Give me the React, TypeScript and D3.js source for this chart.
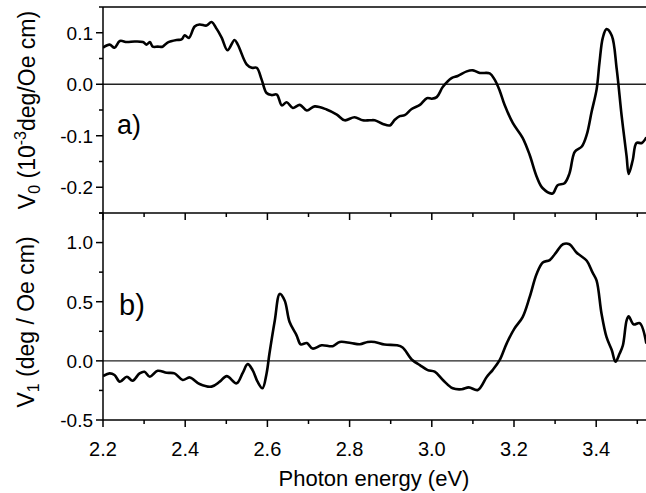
import React from "react";
import * as d3 from "d3";

// Photon energy (eV) and V0 (1e-3 deg/Oe cm) — panel a
const energyA = [2.2, 2.216, 2.228, 2.241, 2.258, 2.277, 2.297, 2.306, 2.314, 2.321, 2.333, 2.345, 2.357, 2.379, 2.391, 2.399, 2.409, 2.423, 2.435, 2.452, 2.464, 2.477, 2.489, 2.503, 2.52, 2.528, 2.55, 2.562, 2.574, 2.586, 2.598, 2.61, 2.623, 2.635, 2.647, 2.662, 2.679, 2.696, 2.715, 2.744, 2.769, 2.788, 2.812, 2.832, 2.849, 2.861, 2.881, 2.898, 2.91, 2.922, 2.934, 2.951, 2.971, 2.988, 3.0, 3.012, 3.027, 3.048, 3.063, 3.085, 3.1, 3.117, 3.141, 3.153, 3.165, 3.177, 3.197, 3.221, 3.238, 3.255, 3.27, 3.294, 3.306, 3.323, 3.335, 3.348, 3.365, 3.377, 3.389, 3.401, 3.408, 3.416, 3.425, 3.438, 3.45, 3.462, 3.474, 3.479, 3.489, 3.498, 3.511, 3.522];
const v0 = [0.071, 0.077, 0.071, 0.084, 0.082, 0.083, 0.082, 0.077, 0.082, 0.073, 0.073, 0.073, 0.081, 0.086, 0.087, 0.095, 0.09, 0.112, 0.116, 0.114, 0.121, 0.107, 0.09, 0.066, 0.086, 0.077, 0.038, 0.032, 0.032, 0.009, -0.017, -0.021, -0.02, -0.041, -0.035, -0.046, -0.04, -0.051, -0.043, -0.049, -0.059, -0.07, -0.064, -0.07, -0.07, -0.07, -0.077, -0.08, -0.069, -0.062, -0.06, -0.048, -0.04, -0.027, -0.028, -0.025, -0.005, 0.012, 0.016, 0.025, 0.027, 0.022, 0.021, 0.009, -0.012, -0.04, -0.075, -0.104, -0.137, -0.179, -0.202, -0.212, -0.196, -0.192, -0.173, -0.131, -0.121, -0.098, -0.053, -0.01, 0.042, 0.09, 0.107, 0.094, 0.029, -0.062, -0.14, -0.174, -0.147, -0.114, -0.114, -0.103];

// Photon energy (eV) and V1 (deg / Oe cm) — panel b
const energyB = [2.2, 2.216, 2.228, 2.241, 2.258, 2.272, 2.289, 2.301, 2.314, 2.333, 2.355, 2.374, 2.394, 2.411, 2.435, 2.464, 2.484, 2.501, 2.525, 2.54, 2.552, 2.564, 2.576, 2.588, 2.598, 2.605, 2.618, 2.63, 2.642, 2.654, 2.671, 2.681, 2.696, 2.71, 2.732, 2.759, 2.776, 2.803, 2.825, 2.844, 2.861, 2.885, 2.915, 2.929, 2.951, 2.971, 2.99, 3.007, 3.027, 3.051, 3.073, 3.09, 3.112, 3.134, 3.148, 3.165, 3.182, 3.201, 3.221, 3.238, 3.255, 3.27, 3.287, 3.304, 3.319, 3.335, 3.352, 3.377, 3.391, 3.401, 3.413, 3.425, 3.438, 3.447, 3.457, 3.465, 3.474, 3.479, 3.491, 3.506, 3.522];
const v1 = [-0.129, -0.106, -0.12, -0.176, -0.134, -0.168, -0.106, -0.092, -0.134, -0.084, -0.101, -0.106, -0.162, -0.14, -0.196, -0.218, -0.176, -0.129, -0.19, -0.101, -0.028, -0.078, -0.176, -0.232, -0.106, 0.062, 0.342, 0.566, 0.51, 0.328, 0.216, 0.14, 0.151, 0.104, 0.132, 0.124, 0.16, 0.151, 0.14, 0.16, 0.16, 0.138, 0.132, 0.113, 0.012, -0.036, -0.078, -0.092, -0.162, -0.232, -0.24, -0.224, -0.246, -0.134, -0.078, 0.006, 0.146, 0.272, 0.37, 0.538, 0.734, 0.832, 0.852, 0.924, 0.986, 0.986, 0.916, 0.846, 0.748, 0.678, 0.398, 0.202, 0.09, -0.008, 0.062, 0.132, 0.342, 0.376, 0.308, 0.319, 0.146];

const xMajor = [2.2, 2.4, 2.6, 2.8, 3.0, 3.2, 3.4];
const xMinor = [2.3, 2.5, 2.7, 2.9, 3.1, 3.3, 3.5];
const yTopMajor = [-0.2, -0.1, 0.0, 0.1];
const yTopMinor = [-0.25, -0.15, -0.05, 0.05, 0.15];
const yBotMajor = [-0.5, 0.0, 0.5, 1.0];
const yBotMinor = [-0.25, 0.25, 0.75, 1.25];

const FONT = "'Liberation Sans', Arial, Helvetica, sans-serif";

export default function App() {
  const W = 646, H = 493;
  const left = 103, right = 646;
  const x = d3.scaleLinear().domain([2.2, 2.2 + 543 / 411]).range([left, right]);
  const yA = d3.scaleLinear().domain([-0.25, 0.15]).range([213, 7]);
  const yB = d3.scaleLinear().domain([-0.5, 1.25]).range([420, 213]);

  const lineA = d3.line<number>().x((_, i) => x(energyA[i])).y((d) => yA(d)).curve(d3.curveCatmullRom.alpha(0.5));
  const lineB = d3.line<number>().x((_, i) => x(energyB[i])).y((d) => yB(d)).curve(d3.curveCatmullRom.alpha(0.5));

  const fmtY = (v: number) => (v === 0 ? "0.0" : d3.format(".1f")(v).replace("−", "-"));

  return (
    <svg width={W} height={H} style={{ position: "absolute", left: 0, top: 0, background: "#fff" }} fontFamily={FONT}>
      <rect x={0} y={0} width={W} height={H} fill="#fff" />
      <defs>
        <clipPath id="plotclip">
          <rect x={left} y={7} width={right - left} height={413} />
        </clipPath>
      </defs>

      {/* zero lines */}
      <line x1={left} x2={right} y1={yA(0)} y2={yA(0)} stroke="#222" strokeWidth={1.3} />
      <line x1={left} x2={right} y1={yB(0)} y2={yB(0)} stroke="#222" strokeWidth={1.3} />

      {/* curves */}
      <g clipPath="url(#plotclip)">
        <path d={lineA(v0) || ""} fill="none" stroke="#000" strokeWidth={2.6} strokeLinejoin="round" />
        <path d={lineB(v1) || ""} fill="none" stroke="#000" strokeWidth={2.6} strokeLinejoin="round" />
      </g>

      {/* frame lines */}
      <line x1={left} x2={right} y1={7} y2={7} stroke="#000" strokeWidth={1.5} />
      <line x1={left} x2={right} y1={213} y2={213} stroke="#000" strokeWidth={1.5} />
      <line x1={left} x2={right} y1={420} y2={420} stroke="#000" strokeWidth={1.5} />
      <line x1={left} x2={left} y1={7} y2={420} stroke="#000" strokeWidth={1.5} />

      {/* x ticks on middle and bottom axes (pointing down) */}
      {[213, 420].map((yy) => (
        <g key={yy}>
          {xMajor.map((t) => (
            <line key={"M" + t} x1={x(t)} x2={x(t)} y1={yy} y2={yy + 7} stroke="#000" strokeWidth={1.5} />
          ))}
          {xMinor.map((t) => (
            <line key={"m" + t} x1={x(t)} x2={x(t)} y1={yy} y2={yy + 4} stroke="#000" strokeWidth={1.5} />
          ))}
        </g>
      ))}

      {/* x tick labels */}
      {xMajor.map((t) => (
        <text key={t} x={x(t)} y={456} fontSize={20} textAnchor="middle" fill="#000">
          {t.toFixed(1)}
        </text>
      ))}

      {/* y ticks panel a */}
      {yTopMajor.map((t) => (
        <g key={"a" + t}>
          <line x1={left - 7} x2={left} y1={yA(t)} y2={yA(t)} stroke="#000" strokeWidth={1.5} />
          <text x={93} y={yA(t)} dy="0.36em" fontSize={19} textAnchor="end" fill="#000">
            {fmtY(t)}
          </text>
        </g>
      ))}
      {yTopMinor.map((t) => (
        <line key={"am" + t} x1={left - 4} x2={left} y1={yA(t)} y2={yA(t)} stroke="#000" strokeWidth={1.5} />
      ))}

      {/* y ticks panel b */}
      {yBotMajor.map((t) => (
        <g key={"b" + t}>
          <line x1={left - 7} x2={left} y1={yB(t)} y2={yB(t)} stroke="#000" strokeWidth={1.5} />
          <text x={93} y={yB(t)} dy="0.36em" fontSize={19} textAnchor="end" fill="#000">
            {fmtY(t)}
          </text>
        </g>
      ))}
      {yBotMinor.map((t) => (
        <line key={"bm" + t} x1={left - 4} x2={left} y1={yB(t)} y2={yB(t)} stroke="#000" strokeWidth={1.5} />
      ))}

      {/* panel labels */}
      <text x={117} y={134} fontSize={27} fill="#000">a)</text>
      <text x={119} y={315} fontSize={29} fill="#000">b)</text>

      {/* axis titles */}
      <text x={374} y={486} fontSize={22} textAnchor="middle" fill="#000">Photon energy (eV)</text>

      <text transform="translate(35,110) rotate(-90)" fontSize={23} textAnchor="middle" fill="#000">
        <tspan>V</tspan>
        <tspan fontSize={16} dy={5}>0</tspan>
        <tspan dy={-5}> (10</tspan>
        <tspan fontSize={16} dy={-9}>-3</tspan>
        <tspan dy={9}>deg/Oe cm)</tspan>
      </text>
      <text transform="translate(34,322) rotate(-90)" fontSize={23} textAnchor="middle" fill="#000">
        <tspan>V</tspan>
        <tspan fontSize={16} dy={5}>1</tspan>
        <tspan dy={-5}> (deg / Oe cm)</tspan>
      </text>
    </svg>
  );
}
